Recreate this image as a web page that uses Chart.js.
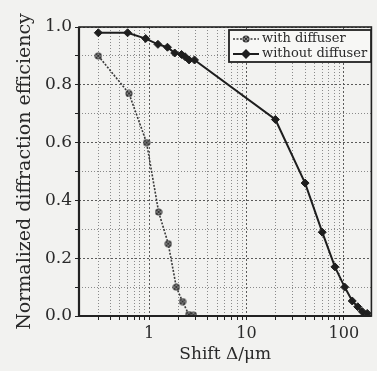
<!DOCTYPE html>
<html>
<head>
<meta charset="utf-8">
<script src="https://cdn.jsdelivr.net/npm/chart.js@4/dist/chart.umd.min.js"></script>
<style>
  html, body { margin: 0; padding: 0; background: #f2f2f0; }
  #wrap { width: 377px; height: 371px; }
</style>
</head>
<body>
<div id="wrap"><canvas id="effChart" width="377" height="371"></canvas></div>
<script>
// values
const SHIFT_WITH = [0.3, 0.62, 0.94, 1.25, 1.57, 1.9, 2.2, 2.55, 2.85];
const EFF_WITH = [0.90, 0.77, 0.60, 0.36, 0.25, 0.10, 0.05, 0.005, 0.003];

const SHIFT_WITHOUT = [0.3, 0.6, 0.92, 1.23, 1.54, 1.83, 2.15, 2.34, 2.57, 2.92, 19.8, 40, 60, 81, 102, 122, 139, 155, 174];
const EFF_WITHOUT = [0.98, 0.98, 0.96, 0.94, 0.93, 0.91, 0.905, 0.897, 0.886, 0.886, 0.68, 0.46, 0.29, 0.17, 0.10, 0.052, 0.032, 0.015, 0.009];

const X_TICK_LABELS = [1, 10, 100];
const X_MIN = 0.19, X_MAX = 192;

const SERIF = "'DejaVu Serif', 'Liberation Serif', serif";
const INK = "#222";

// minor grid positions 0.3..0.9, 2..9, 20..90 plus decades
const gridX = [];
[0.1, 1, 10, 100].forEach((dec) => {
  for (let m = 1; m <= 9; m++) {
    const v = +(m * dec).toPrecision(3);
    if (v >= X_MIN && v <= X_MAX && v > 0.2) gridX.push(v);
  }
});

// circle-with-cross marker for the diffuser series
function crossCircle() {
  const c = document.createElement("canvas");
  c.width = 8; c.height = 8;
  const g = c.getContext("2d");
  g.strokeStyle = "#333";
  g.lineWidth = 1.1;
  g.fillStyle = "#bbb";
  g.beginPath(); g.arc(4, 4, 3, 0, Math.PI * 2); g.fill(); g.stroke();
  g.beginPath();
  g.moveTo(2, 2); g.lineTo(6, 6);
  g.moveTo(6, 2); g.lineTo(2, 6);
  g.stroke();
  return c;
}
const diffMarker = crossCircle();

const isDecade = (v) => X_TICK_LABELS.includes(+v.toPrecision(3));
const isEvenY = (v) => Math.round(v * 10) % 2 === 0;

const framePlugin = {
  id: "frame",
  afterDatasetsDraw(chart) {
    const { ctx, chartArea: a } = chart;
    ctx.save();
    ctx.strokeStyle = INK;
    ctx.lineWidth = 1.6;
    ctx.strokeRect(a.left, a.top, a.right - a.left, a.bottom - a.top);
    ctx.lineWidth = 2.2;
    ctx.beginPath();
    ctx.moveTo(a.left, a.top); ctx.lineTo(a.left, a.bottom); ctx.lineTo(a.right, a.bottom);
    ctx.stroke();
    ctx.restore();
  },
};

const legendPlugin = {
  id: "boxLegend",
  afterDraw(chart) {
    const { ctx } = chart;
    const x0 = 229, y0 = 30, w = 142, h = 32;
    ctx.save();
    ctx.fillStyle = "#f7f7f5";
    ctx.fillRect(x0, y0, w, h);
    ctx.strokeStyle = INK;
    ctx.lineWidth = 1.8;
    ctx.strokeRect(x0, y0, w, h);
    ctx.font = "13px " + SERIF;
    ctx.textBaseline = "middle";
    chart.data.datasets.forEach((ds, i) => {
      const y = y0 + 9 + i * 15;
      ctx.strokeStyle = ds.borderColor;
      ctx.lineWidth = ds.borderWidth;
      ctx.setLineDash(ds.borderDash || []);
      ctx.beginPath(); ctx.moveTo(x0 + 4, y); ctx.lineTo(x0 + 30, y); ctx.stroke();
      ctx.setLineDash([]);
      if (ds.pointStyle === "rectRot") {
        ctx.fillStyle = ds.pointBackgroundColor;
        ctx.beginPath();
        ctx.moveTo(x0 + 17, y - 5); ctx.lineTo(x0 + 22, y);
        ctx.lineTo(x0 + 17, y + 5); ctx.lineTo(x0 + 12, y);
        ctx.closePath(); ctx.fill();
      } else {
        ctx.drawImage(diffMarker, x0 + 13, y - 4);
      }
      ctx.fillStyle = "#2a2a2a";
      ctx.fillText(ds.label, x0 + 33, y);
    });
    ctx.restore();
  },
};

new Chart(document.getElementById("effChart").getContext("2d"), {
  type: "line",
  data: {
    datasets: [
      {
        label: "with diffuser",
        data: SHIFT_WITH.map((x, i) => ({ x, y: EFF_WITH[i] })),
        borderColor: "#3a3a3a",
        borderWidth: 1.6,
        borderDash: [2, 1.5],
        pointStyle: diffMarker,
        pointRadius: 4,
        tension: 0,
      },
      {
        label: "without diffuser",
        data: SHIFT_WITHOUT.map((x, i) => ({ x, y: EFF_WITHOUT[i] })),
        borderColor: "#1e1e1e",
        borderWidth: 2,
        pointStyle: "rectRot",
        pointRadius: 4,
        pointBackgroundColor: "#1e1e1e",
        pointBorderColor: "#1e1e1e",
        pointBorderWidth: 1,
        tension: 0,
      },
    ],
  },
  options: {
    responsive: false,
    animation: false,
    layout: { padding: { left: 0, right: 5, top: 27, bottom: 0 } },
    plugins: { legend: { display: false }, tooltip: { enabled: false } },
    scales: {
      x: {
        type: "logarithmic",
        min: X_MIN,
        max: X_MAX,
        afterBuildTicks: (scale) => {
          scale.ticks = gridX.map((v) => ({ value: v }));
        },
        afterFit: (scale) => { scale.height = 55; },
        grid: {
          color: (c) => (c.tick && isDecade(c.tick.value) ? "#5a5a5a" : "#8a8a8a"),
          lineWidth: 1,
          tickLength: 4,
          tickColor: INK,
        },
        border: {
          display: false,
          dash: (c) => (c.tick && isDecade(c.tick.value) ? [2, 2] : [1, 2]),
        },
        ticks: {
          autoSkip: false,
          maxRotation: 0,
          padding: 4,
          color: "#2a2a2a",
          font: { family: SERIF, size: 16 },
          callback: (v) => (isDecade(v) ? String(+v.toPrecision(3)) : ""),
        },
        title: {
          display: true,
          text: "Shift Δ/μm",
          color: "#2a2a2a",
          font: { family: SERIF, size: 17, lineHeight: 1 },
          padding: { top: 0, bottom: 8 },
        },
      },
      y: {
        min: 0,
        max: 1,
        afterFit: (scale) => { scale.width = 79; },
        grid: {
          color: (c) => (c.tick && isEvenY(c.tick.value) ? "#5a5a5a" : "#8a8a8a"),
          lineWidth: 1,
          tickLength: 4,
          tickColor: INK,
        },
        border: {
          display: false,
          dash: (c) => (c.tick && isEvenY(c.tick.value) ? [2, 2] : [1, 2]),
        },
        ticks: {
          stepSize: 0.1,
          padding: 3,
          color: "#2a2a2a",
          font: { family: SERIF, size: 17 },
          callback: (v) => (isEvenY(v) ? v.toFixed(1) : ""),
        },
        title: {
          display: true,
          text: "Normalized diffraction efficiency",
          color: "#2a2a2a",
          font: { family: SERIF, size: 19, lineHeight: 1 },
          padding: { top: 16, bottom: 0 },
        },
      },
    },
  },
  plugins: [framePlugin, legendPlugin],
});
</script>
</body>
</html>
